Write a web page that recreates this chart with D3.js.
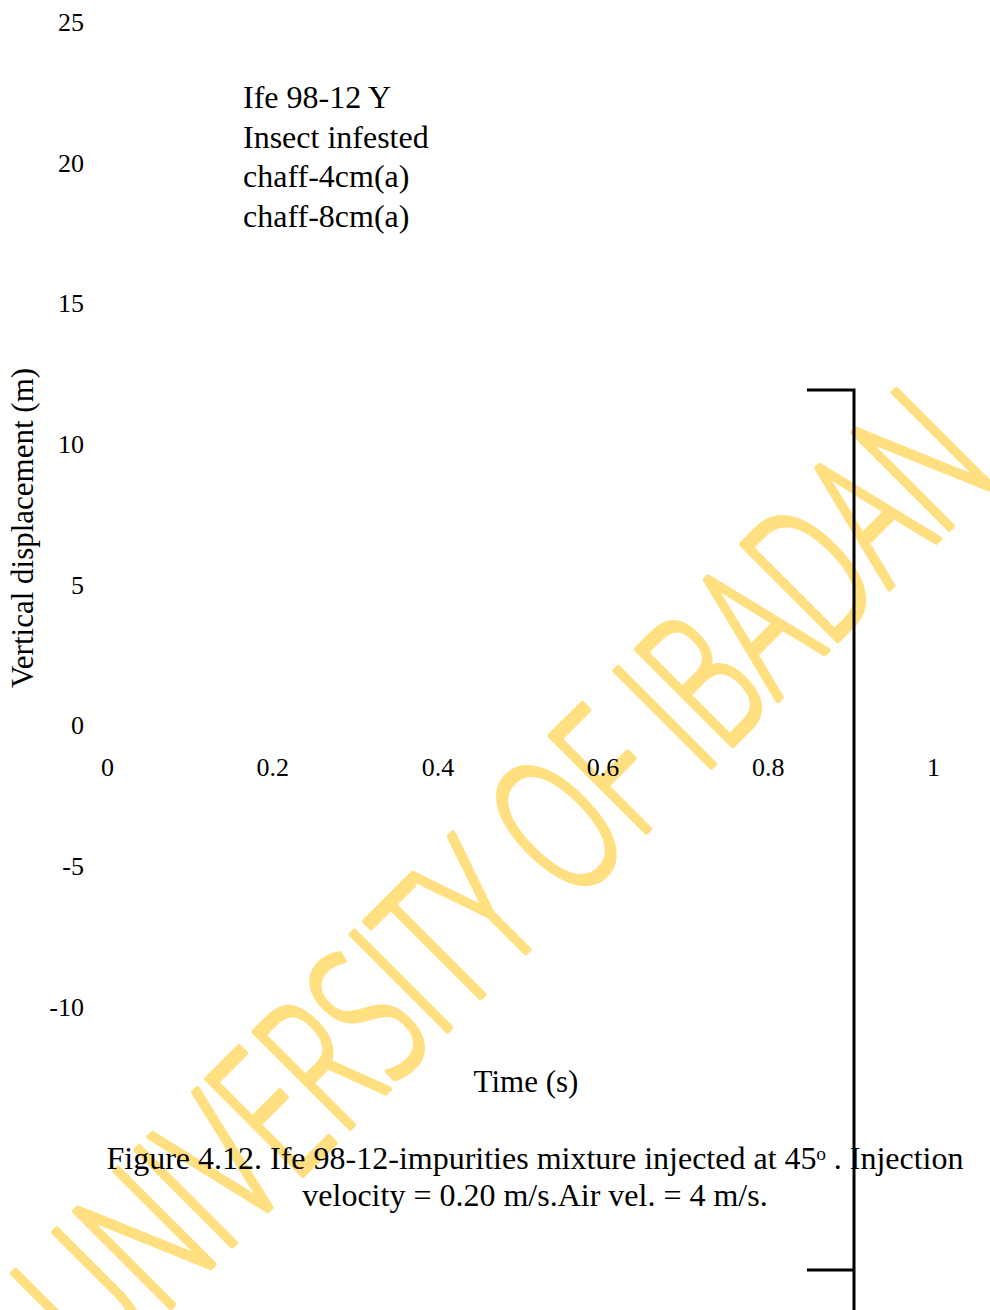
<!DOCTYPE html>
<html>
<head>
<meta charset="utf-8">
<script src="https://cdn.jsdelivr.net/npm/d3@7/dist/d3.min.js"></script>
<style>
  html, body { margin: 0; padding: 0; background: #fff; }
  svg { display: block; }
  text { font-family: "Liberation Serif", "Times New Roman", serif; fill: #000; }
</style>
</head>
<body>
<svg id="chart" width="990" height="1310"></svg>
<script>
// Axis ticks
const xTicks = [0, 0.2, 0.4, 0.6, 0.8, 1];
const yTicks = [-10, -5, 0, 5, 10, 15, 20, 25];

// Series (time in s, vertical displacement in m) - legend entries only, no plotted points
const seriesNames = ["Ife 98-12 Y", "Insect infested", "chaff-4cm(a)", "chaff-8cm(a)"];
const seriesIfe = [];
const seriesInsect = [];
const seriesChaff4 = [];
const seriesChaff8 = [];

const captionLines = [
  "Figure 4.12. Ife 98-12-impurities mixture injected at 45\u1D52 . Injection",
  "velocity = 0.20 m/s.Air vel. = 4 m/s."
];

const svg = d3.select("#chart");

const x = d3.scaleLinear().domain([0, 1]).range([107, 933]);
const y = d3.scaleLinear().domain([-10, 25]).range([1007, 22]);

// Watermark (drawn first so everything else sits above it)
svg.append("text")
  .attr("transform", "translate(100,1378) rotate(-45)")
  .attr("textLength", 1275)
  .attr("lengthAdjust", "spacingAndGlyphs")
  .style("font-family", "'Open Sans', sans-serif")
  .style("font-weight", 300)
  .style("font-size", "190px")
  .style("fill", "#FFDF80")
  .style("stroke", "#FFDF80")
  .style("stroke-width", 5.5)
  .style("stroke-linejoin", "round")
  .style("stroke-linecap", "round")
  .text("UNIVERSITY OF IBADAN");

// Y axis
const yAxis = svg.append("g")
  .attr("transform", `translate(${x(0)},0)`)
  .call(d3.axisLeft(y).tickValues(yTicks).tickSize(0).tickPadding(23).tickFormat(d => String(d)));
yAxis.select(".domain").remove();
yAxis.selectAll("text")
  .style("font-family", "'Liberation Serif', serif")
  .style("font-size", "26px");

// X axis (labels only)
const xAxis = svg.append("g")
  .attr("transform", `translate(0,${y(0)})`)
  .call(d3.axisBottom(x).tickValues(xTicks).tickSize(0).tickPadding(32).tickFormat(d => String(d)));
xAxis.select(".domain").remove();
xAxis.selectAll("text")
  .style("font-family", "'Liberation Serif', serif")
  .style("font-size", "26px");

// Series lines (empty data)
const line = d3.line().x(d => x(d[0])).y(d => y(d[1]));
[seriesIfe, seriesInsect, seriesChaff4, seriesChaff8].forEach(s => {
  svg.append("path").datum(s).attr("d", line).attr("fill", "none").attr("stroke", "none");
});

// Legend
svg.append("g").selectAll("text")
  .data(seriesNames)
  .join("text")
  .attr("x", 243)
  .attr("y", (d, i) => 108 + i * 39.5)
  .style("font-size", "32px")
  .text(d => d);

// Axis titles
svg.append("text")
  .attr("transform", "translate(33,528) rotate(-90)")
  .attr("text-anchor", "middle")
  .style("font-size", "31px")
  .text("Vertical displacement (m)");

svg.append("text")
  .attr("x", 526)
  .attr("y", 1092)
  .attr("text-anchor", "middle")
  .style("font-size", "31px")
  .text("Time (s)");

// Caption
svg.append("g").selectAll("text")
  .data(captionLines)
  .join("text")
  .attr("x", 535)
  .attr("y", (d, i) => 1169 + i * 37)
  .attr("text-anchor", "middle")
  .style("font-size", "32px")
  .text(d => d);

// Bracket line on the right
svg.append("path")
  .attr("d", "M807,390 H854 V1310 M807,1270 H854")
  .attr("fill", "none")
  .attr("stroke", "#000")
  .attr("stroke-width", 3);
</script>
</body>
</html>
